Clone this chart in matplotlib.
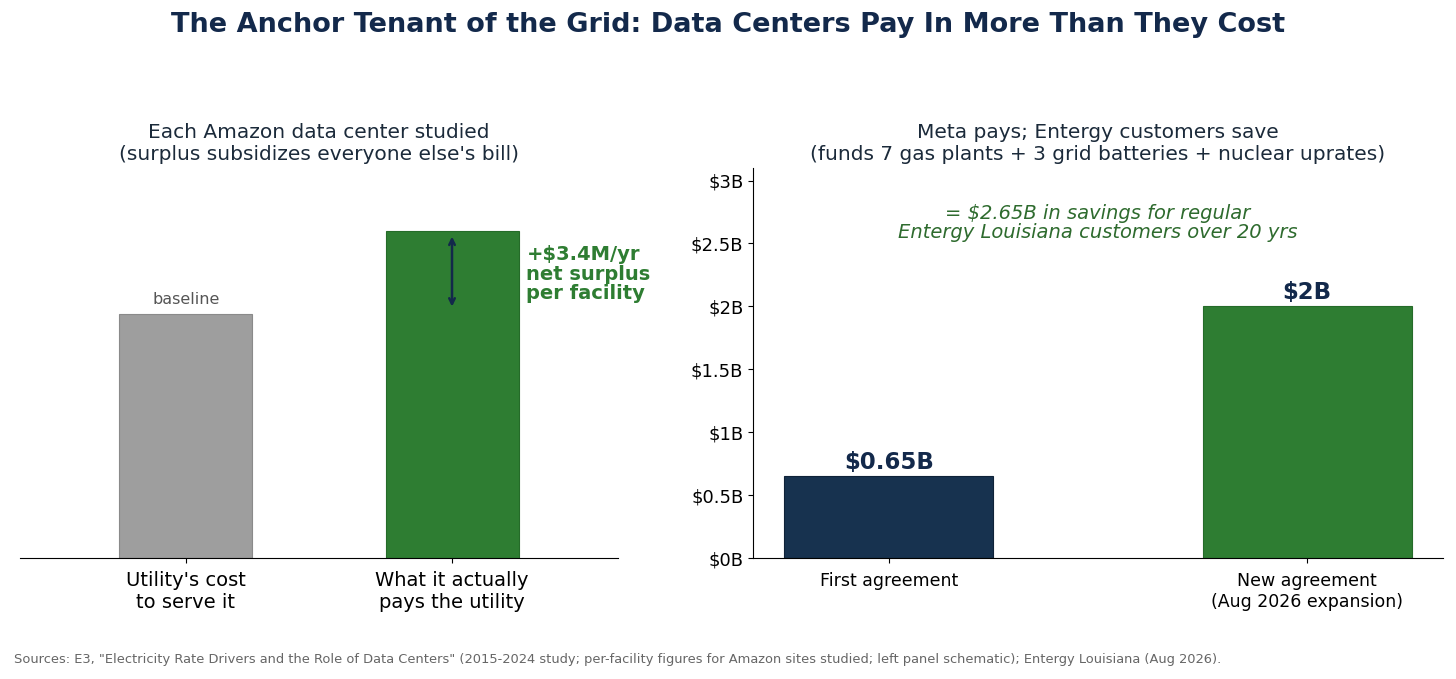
import matplotlib.pyplot as plt
from matplotlib.ticker import FuncFormatter

# left panel: schematic cost vs payment (index, cost = 10)
left_labels = ["Utility's cost\nto serve it", "What it actually\npays the utility"]
left_values = [10, 13.4]
left_colors = ['#9e9e9e', '#2e7d32']

# right panel: Meta payments to Entergy ($B)
right_labels = ["First agreement", "New agreement\n(Aug 2026 expansion)"]
right_values = [0.65, 2.0]
right_text = ["$0.65B", "$2B"]
right_colors = ['#17324f', '#2e7d32']
right_ticks = [0, 0.5, 1, 1.5, 2, 2.5, 3]

navy = '#13294b'
green = '#2e7d32'

fig = plt.figure(figsize=(14.56, 6.79), dpi=100)
ax1 = fig.add_axes([20/1456, 1-558/679, 598/1456, 390/679])
ax2 = fig.add_axes([753/1456, 1-558/679, 690/1456, 390/679])

fig.suptitle('The Anchor Tenant of the Grid: Data Centers Pay In More Than They Cost',
             x=0.5, y=1-25/679, va='center', fontsize=19.5, fontweight='bold', color=navy)

# Left
x = range(len(left_values))
ax1.bar(x, left_values, width=0.5, color=left_colors,
        edgecolor=['#8a8a8a', '#256b29'], linewidth=0.8)
ax1.set_xlim(-0.624, 1.624)
ax1.set_ylim(0, 16)
ax1.set_xticks(list(x))
ax1.set_xticklabels(left_labels, fontsize=14)
ax1.tick_params(axis='x', pad=5.5)
ax1.set_yticks([])
for s in ['top', 'right', 'left']:
    ax1.spines[s].set_visible(False)
ax1.set_title("Each Amazon data center studied\n(surplus subsidizes everyone else's bill)",
              fontsize=14.5, color='#1b2a3a', pad=6)
ax1.text(0, left_values[0] + 0.3, 'baseline', ha='center', va='bottom',
         fontsize=11.5, color='#555555')
ax1.annotate('', xy=(1, left_values[1] - 0.1), xytext=(1, left_values[0] + 0.2),
             arrowprops=dict(arrowstyle='<->', color=navy, lw=1.8))
ax1.text(1.28, 11.65, '+$3.4M/yr\nnet surplus\nper facility', ha='left', va='center',
         fontsize=14, fontweight='bold', color=green, linespacing=1.05)

# Right
x2 = range(len(right_values))
ax2.bar(x2, right_values, width=0.5, color=right_colors,
        edgecolor=['#0f2238', '#256b29'], linewidth=0.8)
ax2.set_ylim(0, 3.1)
ax2.set_xticks(list(x2))
ax2.set_xticklabels(right_labels, fontsize=12.5)
ax2.tick_params(axis='x', pad=6.5)
ax2.set_yticks(right_ticks)
ax2.yaxis.set_major_formatter(FuncFormatter(lambda v, p: f'${v:g}B'))
ax2.tick_params(axis='y', labelsize=13)
for s in ['top', 'right']:
    ax2.spines[s].set_visible(False)
ax2.set_title("Meta pays; Entergy customers save\n(funds 7 gas plants + 3 grid batteries + nuclear uprates)",
              fontsize=14.5, color='#1b2a3a', pad=6)
for i, v in enumerate(right_values):
    ax2.text(i, v + 0.015, right_text[i], ha='center', va='bottom',
             fontsize=16.5, fontweight='bold', color=navy)
ax2.text(0.5, 0.86, '= $2.65B in savings for regular\nEntergy Louisiana customers over 20 yrs',
         transform=ax2.transAxes, ha='center', va='center', fontsize=14,
         style='italic', color='#2e6b2e', linespacing=1.0)

fig.text(14/1456, 1-659/679,
         'Sources: E3, "Electricity Rate Drivers and the Role of Data Centers" (2015-2024 study; '
         'per-facility figures for Amazon sites studied; left panel schematic); Entergy Louisiana (Aug 2026).',
         ha='left', va='center', fontsize=9.4, color='#666666')

fig.savefig('out.png', dpi=100)
